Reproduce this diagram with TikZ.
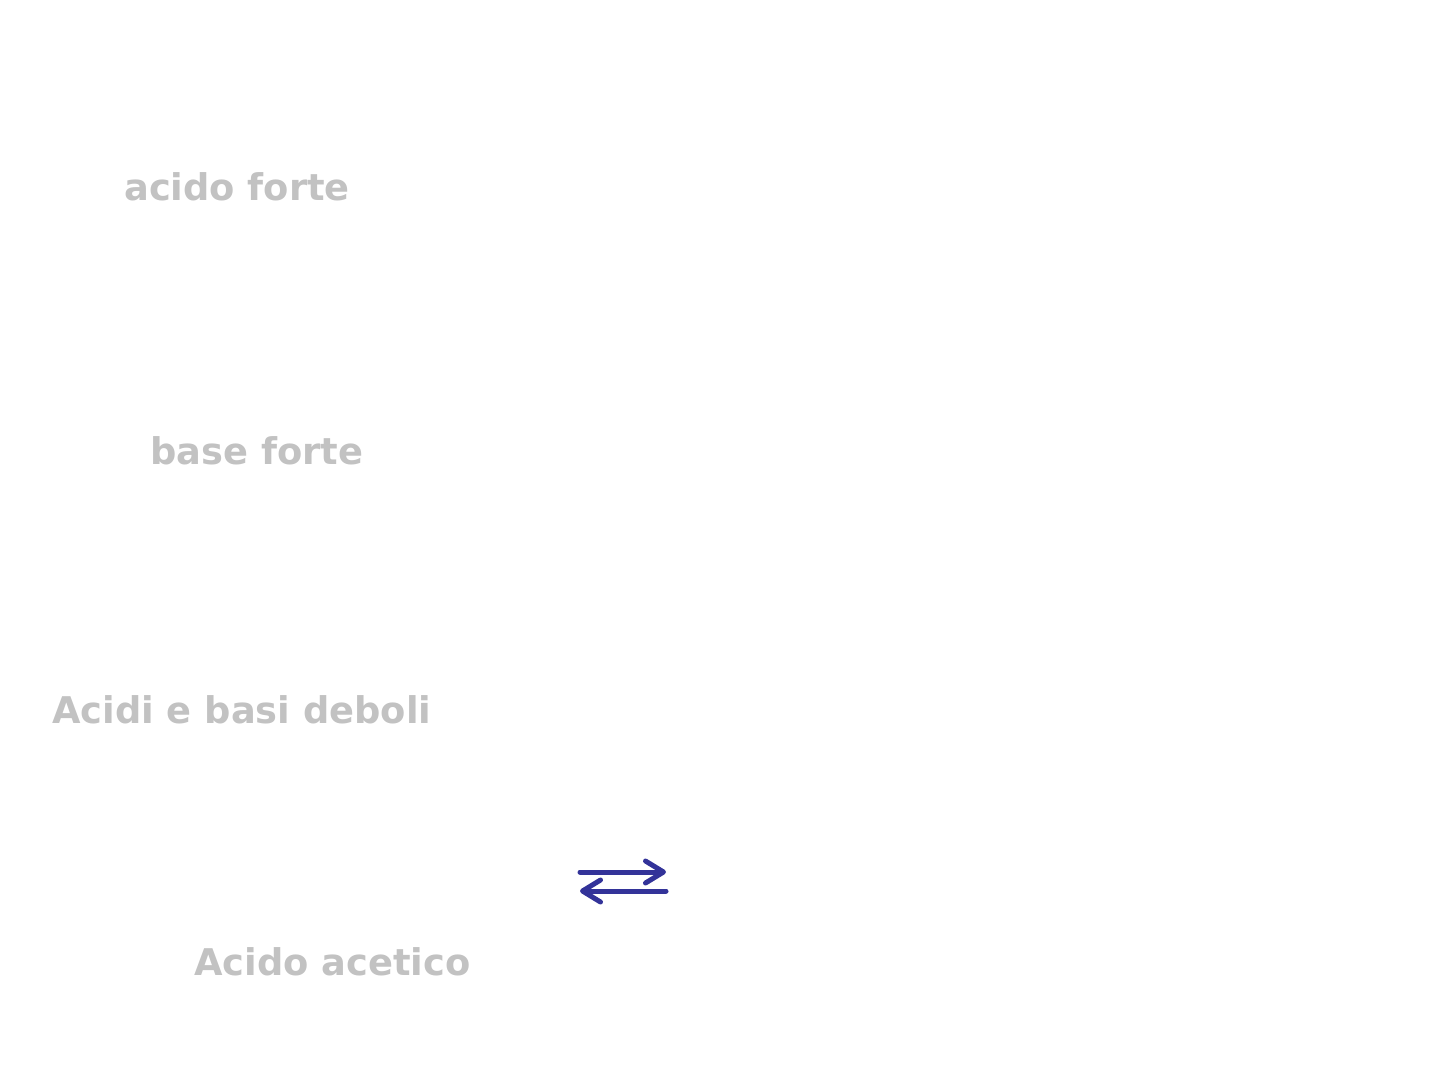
\documentclass[tikz,border=0pt]{standalone}
\usepackage{fontspec}
\setmainfont{DejaVu Sans}
\usetikzlibrary{arrows.meta}
\definecolor{fadegray}{RGB}{194,194,194}
\definecolor{eqblue}{RGB}{51,51,153}

\begin{document}
\begin{tikzpicture}[
             x                = 1pt,
             y                = -1pt,
             label/.style     = {anchor = base west, inner sep = 0pt, text = fadegray,
                                 font = \bfseries\fontsize{36.8}{44}\selectfont},
             eq/.style        = {eqblue, line width = 5pt, line cap = round,
                                 -{Straight Barb[length = 18pt, width = 22pt, round]}}]
             \useasboundingbox (0,0) rectangle (1440,1080);
             \node [label] (acido) at (124,200) {acido forte};
             \node [label] (base)  at (150,464) {base forte};
             \node [label] (deboli) at (52,723) {Acidi e basi deboli};
             \node [label] (acetico) at (194,975) {Acido acetico};
             % doppia freccia di equilibrio
             \coordinate (eqA) at (580,872);
             \coordinate (eqB) at (666,872);
             \coordinate (eqC) at (666,891);
             \coordinate (eqD) at (580,891);
             \draw [eq] (eqA) -- (eqB);
             \draw [eq] (eqC) -- (eqD);
    \end{tikzpicture}
\end{document}
